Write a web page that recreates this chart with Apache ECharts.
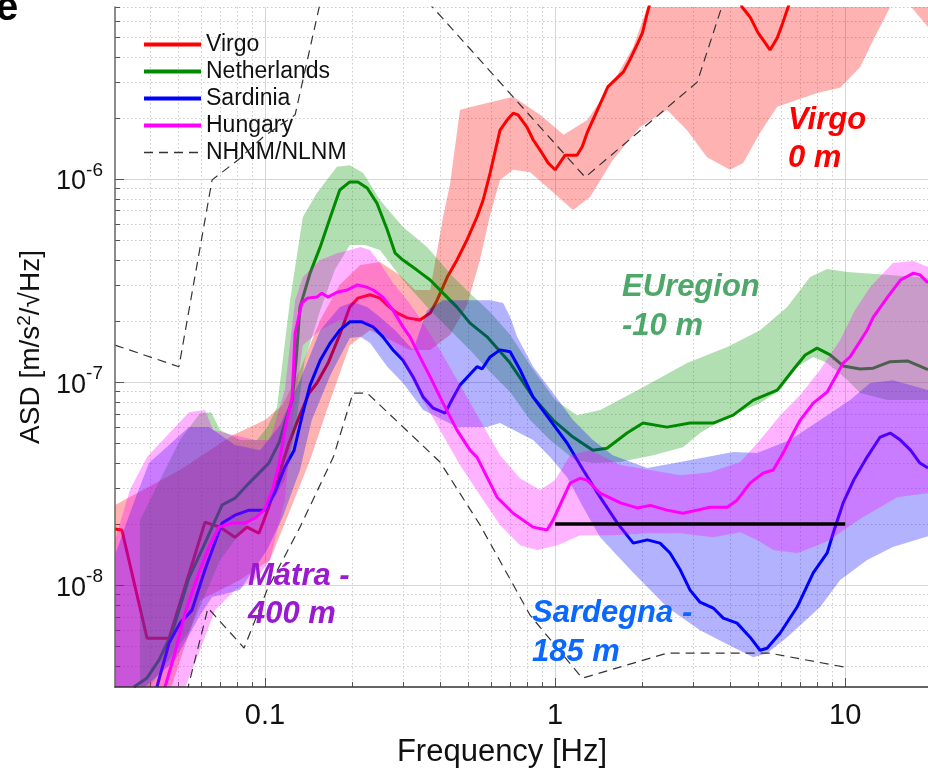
<!DOCTYPE html>
<html>
<head>
<meta charset="utf-8">
<script src="https://cdn.jsdelivr.net/npm/echarts@6/dist/echarts.min.js"></script>
<style>
  html, body { margin: 0; padding: 0; background: #fff; }
  #chart { width: 928px; height: 783px; }
</style>
</head>
<body>
<div id="chart"></div>
<script>
// axis ranges and grid positions
const xMin = 0.0304, xMax = 19.3
const yMin = 3.15e-9, yMax = 7.03e-6
const majorX = [0.1, 1, 10]
const minorX = [0.04, 0.05, 0.06, 0.07, 0.08, 0.09, 0.2, 0.3, 0.4, 0.5, 0.6, 0.7, 0.8, 0.9, 2, 3, 4, 5, 6, 7, 8, 9]
const majorY = [1e-8, 1e-7, 1e-6]
const minorY = [4e-9, 5e-9, 6e-9, 7e-9, 8e-9, 9e-9, 2e-8, 3e-8, 4e-8, 5e-8, 6e-8, 7e-8, 8e-8, 9e-8,
  2e-7, 3e-7, 4e-7, 5e-7, 6e-7, 7e-7, 8e-7, 9e-7, 2e-6, 3e-6, 4e-6, 5e-6, 6e-6, 7e-6]

// median ASD curves, [frequency Hz, m/s^2/sqrt(Hz)]
const virgo = [[0.0304,1.89e-8],[0.0321,1.87e-8],[0.0392,5.48e-9],[0.0467,5.48e-9],[0.0621,2.04e-8],[0.070,1.93e-8],[0.0788,1.72e-8],[0.0867,1.93e-8],[0.0953,1.80e-8],[0.103,2.42e-8],[0.112,3.56e-8],[0.121,5.01e-8],[0.131,6.73e-8],[0.142,8.83e-8],[0.151,9.89e-8],[0.165,1.24e-7],[0.181,1.71e-7],[0.196,2.34e-7],[0.209,2.59e-7],[0.230,2.69e-7],[0.249,2.59e-7],[0.264,2.39e-7],[0.285,2.19e-7],[0.309,2.07e-7],[0.342,2.02e-7],[0.371,2.19e-7],[0.392,2.53e-7],[0.425,3.29e-7],[0.459,3.99e-7],[0.497,5.01e-7],[0.538,6.50e-7],[0.565,7.88e-7],[0.597,1.07e-6],[0.646,1.74e-6],[0.683,1.95e-6],[0.717,2.11e-6],[0.745,2.07e-6],[0.800,1.80e-6],[0.840,1.56e-6],[0.902,1.34e-6],[0.946,1.20e-6],[1.0,1.11e-6],[1.083,1.31e-6],[1.19,1.31e-6],[1.24,1.44e-6],[1.29,1.69e-6],[1.40,2.19e-6],[1.52,2.84e-6],[1.58,3.0e-6],[1.72,3.37e-6],[1.81,3.86e-6],[1.93,4.68e-6],[2.0,5.24e-6],[2.08,6.57e-6],[2.16,8.05e-6],[3.16,1.5e-5],[4.28,8.05e-6],[4.41,7.03e-6],[4.70,6.28e-6],[5.01,5.24e-6],[5.30,4.68e-6],[5.51,4.32e-6],[5.83,4.95e-6],[6.06,5.74e-6],[6.36,7.03e-6],[6.72,9.0e-6],[8.88,1.9e-5]]
const netherlands = [[0.0353,3.15e-9],[0.0392,3.49e-9],[0.0431,4.27e-9],[0.0478,5.81e-9],[0.0547,1.09e-8],[0.0621,1.61e-8],[0.0711,2.48e-8],[0.0788,2.68e-8],[0.0881,3.18e-8],[0.0953,3.56e-8],[0.103,3.99e-8],[0.112,5.06e-8],[0.117,6.28e-8],[0.124,8.15e-8],[0.128,1.28e-7],[0.132,2.34e-7],[0.143,3.44e-7],[0.155,4.63e-7],[0.168,6.50e-7],[0.181,8.83e-7],[0.196,9.67e-7],[0.209,9.67e-7],[0.225,9.03e-7],[0.243,7.61e-7],[0.264,5.61e-7],[0.281,4.31e-7],[0.299,3.99e-7],[0.334,3.56e-7],[0.371,3.18e-7],[0.411,2.74e-7],[0.459,2.34e-7],[0.509,1.95e-7],[0.583,1.67e-7],[0.700,1.24e-7],[0.840,8.43e-8],[0.984,6.50e-8],[1.153,5.36e-8],[1.35,4.62e-8],[1.51,4.72e-8],[1.77,5.61e-8],[2.01,6.28e-8],[2.43,6.0e-8],[2.92,6.28e-8],[3.51,6.28e-8],[4.11,6.87e-8],[4.82,8.15e-8],[5.83,9.13e-8],[6.62,1.15e-7],[7.28,1.36e-7],[8.0,1.47e-7],[8.88,1.36e-7],[9.84,1.20e-7],[11.27,1.16e-7],[12.5,1.17e-7],[14.3,1.26e-7],[16.4,1.27e-7],[19.3,1.15e-7]]
const sardinia = [[0.0424,3.15e-9],[0.0467,5.18e-9],[0.0509,6.50e-9],[0.0560,7.53e-9],[0.0621,1.19e-8],[0.0711,2.02e-8],[0.0788,2.21e-8],[0.0881,2.34e-8],[0.1,2.34e-8],[0.108,2.84e-8],[0.117,3.81e-8],[0.126,4.62e-8],[0.134,6.73e-8],[0.143,9.66e-8],[0.155,1.28e-7],[0.168,1.56e-7],[0.181,1.80e-7],[0.196,1.98e-7],[0.216,1.98e-7],[0.236,1.87e-7],[0.255,1.67e-7],[0.276,1.44e-7],[0.299,1.28e-7],[0.324,1.06e-7],[0.351,8.43e-8],[0.380,7.44e-8],[0.418,7.03e-8],[0.435,7.88e-8],[0.470,9.66e-8],[0.538,1.19e-7],[0.560,1.16e-7],[0.597,1.33e-7],[0.646,1.44e-7],[0.700,1.41e-7],[0.757,1.15e-7],[0.840,8.43e-8],[0.961,6.50e-8],[1.10,5.01e-8],[1.25,3.69e-8],[1.43,2.71e-8],[1.64,2.02e-8],[1.86,1.61e-8],[2.08,1.67e-8],[2.30,1.61e-8],[2.49,1.44e-8],[2.70,1.19e-8],[2.92,9.45e-9],[3.16,8.24e-9],[3.51,7.71e-9],[3.80,6.88e-9],[4.24,6.50e-9],[4.70,5.54e-9],[5.09,4.78e-9],[5.38,4.89e-9],[5.97,5.81e-9],[6.83,7.80e-9],[7.76,1.15e-8],[8.67,1.44e-8],[9.09,1.80e-8],[9.84,2.54e-8],[10.7,3.29e-8],[11.9,4.27e-8],[13.2,5.36e-8],[14.3,5.61e-8],[15.5,5.18e-8],[16.8,4.62e-8],[18.1,3.99e-8],[19.3,3.77e-8]]
const hungary = [[0.0452,3.15e-9],[0.0489,4.62e-9],[0.0530,7.28e-9],[0.0592,1.15e-8],[0.0641,1.54e-8],[0.0694,1.93e-8],[0.0769,2.02e-8],[0.0853,2.02e-8],[0.0924,2.14e-8],[0.0993,2.34e-8],[0.106,2.94e-8],[0.112,3.99e-8],[0.117,5.80e-8],[0.124,8.43e-8],[0.127,1.74e-7],[0.134,2.45e-7],[0.140,2.59e-7],[0.151,2.62e-7],[0.157,2.74e-7],[0.165,2.62e-7],[0.177,2.77e-7],[0.192,2.84e-7],[0.208,3.01e-7],[0.225,2.93e-7],[0.236,2.84e-7],[0.255,2.62e-7],[0.276,2.26e-7],[0.299,1.87e-7],[0.316,1.67e-7],[0.342,1.33e-7],[0.371,1.06e-7],[0.411,7.88e-8],[0.459,5.80e-8],[0.509,4.62e-8],[0.538,4.27e-8],[0.631,2.71e-8],[0.717,2.26e-8],[0.840,1.93e-8],[0.938,1.87e-8],[0.984,2.09e-8],[1.07,2.71e-8],[1.127,3.18e-8],[1.22,3.36e-8],[1.29,3.29e-8],[1.43,2.84e-8],[1.68,2.54e-8],[1.92,2.40e-8],[2.13,2.47e-8],[2.43,2.34e-8],[2.76,2.26e-8],[3.09,2.34e-8],[3.42,2.42e-8],[3.92,2.42e-8],[4.24,2.62e-8],[4.70,3.18e-8],[5.21,3.56e-8],[5.65,3.69e-8],[6.11,4.47e-8],[6.62,5.61e-8],[7.0,6.50e-8],[7.76,7.88e-8],[8.67,8.93e-8],[9.84,1.24e-7],[10.4,1.33e-7],[11.9,1.80e-7],[12.5,2.09e-7],[14.0,2.62e-7],[15.5,3.18e-7],[17.2,3.44e-7],[18.1,3.37e-7],[19.3,3.08e-7]]

// percentile bands (upper / lower edges)
const virgoHi = [[0.0304,2.48e-8],[0.0509,3.69e-8],[0.0776,5.48e-8],[0.1,6.50e-8],[0.115,7.71e-8],[0.132,1.15e-7],[0.155,2.02e-7],[0.181,3.01e-7],[0.213,3.77e-7],[0.249,3.90e-7],[0.292,3.36e-7],[0.329,2.84e-7],[0.371,2.84e-7],[0.411,6.50e-7],[0.435,9.55e-7],[0.470,2.19e-6],[0.551,2.32e-6],[0.717,2.54e-6],[0.888,2.07e-6],[1.07,1.65e-6],[1.29,1.95e-6],[1.58,2.97e-6],[1.86,4.47e-6],[2.08,7.03e-6],[2.21,1.07e-5],[19.3,1.07e-5]]
const virgoLo = [[0.0304,2.8e-9],[0.047,3.0e-9],[0.0597,8.43e-9],[0.082,1.06e-8],[0.104,1.33e-8],[0.122,2.34e-8],[0.143,4.13e-8],[0.168,8.15e-8],[0.196,1.52e-7],[0.230,1.80e-7],[0.270,1.61e-7],[0.316,1.44e-7],[0.371,1.44e-7],[0.435,1.71e-7],[0.497,2.39e-7],[0.551,3.99e-7],[0.597,6.65e-7],[0.646,9.89e-7],[0.717,1.11e-6],[0.820,1.08e-6],[0.938,9.13e-7],[1.153,7.03e-7],[1.32,8.15e-7],[1.58,1.24e-6],[1.96,1.80e-6],[2.43,2.19e-6],[2.85,1.74e-6],[3.34,1.28e-6],[4.01,1.11e-6],[4.45,1.20e-6],[5.09,1.69e-6],[5.83,2.27e-6],[8.0,2.65e-6],[9.61,2.81e-6],[11.27,3.56e-6],[12.5,4.84e-6],[14.3,7.03e-6],[15.5,7.62e-6],[17.0,6.95e-6],[19.3,5.61e-6]]
const nlHi = [[0.0371,2.09e-8],[0.0509,5.18e-8],[0.0597,7.03e-8],[0.0652,7.11e-8],[0.070,5.80e-8],[0.082,5.18e-8],[0.0938,5.18e-8],[0.102,6.0e-8],[0.110,7.53e-8],[0.122,2.53e-7],[0.135,6.50e-7],[0.151,8.53e-7],[0.177,1.15e-6],[0.196,1.17e-6],[0.218,1.07e-6],[0.249,7.88e-7],[0.299,5.81e-7],[0.362,4.63e-7],[0.445,3.29e-7],[0.509,2.74e-7],[0.597,2.21e-7],[0.700,1.71e-7],[0.820,1.21e-7],[1.0,8.15e-8],[1.19,6.87e-8],[1.43,7.28e-8],[2.01,9.44e-8],[2.85,1.24e-7],[3.92,1.49e-7],[5.09,1.80e-7],[6.31,2.34e-7],[7.57,3.29e-7],[8.67,3.60e-7],[10.2,3.48e-7],[14.6,3.36e-7],[19.3,3.25e-7]]
const nlLo = [[0.0371,2.71e-9],[0.0551,6.0e-9],[0.070,1.33e-8],[0.0888,2.09e-8],[0.104,2.48e-8],[0.117,3.29e-8],[0.127,5.80e-8],[0.137,1.28e-7],[0.155,2.26e-7],[0.174,3.56e-7],[0.196,4.73e-7],[0.221,4.73e-7],[0.249,4.47e-7],[0.299,3.18e-7],[0.362,2.34e-7],[0.435,1.80e-7],[0.509,1.44e-7],[0.597,1.12e-7],[0.700,8.93e-8],[0.820,6.50e-8],[0.961,5.18e-8],[1.17,4.13e-8],[1.35,3.99e-8],[1.68,4.04e-8],[2.18,4.36e-8],[2.76,4.78e-8],[3.16,5.61e-8],[3.92,6.73e-8],[5.09,7.88e-8],[5.97,9.13e-8],[6.83,1.19e-7],[7.76,1.33e-7],[8.67,1.24e-7],[10.2,1.02e-7],[11.27,8.83e-8],[14.0,8.15e-8],[19.3,8.15e-8]]
const sarHi = [[0.0304,1.41e-8],[0.0348,2.42e-8],[0.0398,3.99e-8],[0.0547,6.0e-8],[0.0641,6.0e-8],[0.0788,4.90e-8],[0.0962,4.62e-8],[0.1127,6.14e-8],[0.132,1.02e-7],[0.155,1.80e-7],[0.181,2.34e-7],[0.201,2.48e-7],[0.225,2.34e-7],[0.249,2.09e-7],[0.281,1.80e-7],[0.324,1.44e-7],[0.362,2.26e-7],[0.411,2.53e-7],[0.597,2.53e-7],[0.662,2.45e-7],[0.700,2.09e-7],[0.740,1.67e-7],[0.840,1.19e-7],[0.984,8.83e-8],[1.153,6.50e-8],[1.35,5.18e-8],[1.58,4.36e-8],[2.08,3.77e-8],[2.70,4.04e-8],[4.11,4.52e-8],[4.97,4.47e-8],[6.46,5.18e-8],[8.20,6.50e-8],[10.4,8.15e-8],[12.2,9.89e-8],[14.6,1.02e-7],[19.3,9.13e-8]]
const sarLo = [[0.0304,2.5e-9],[0.0342,2.71e-9],[0.0489,4.27e-9],[0.0597,7.11e-9],[0.0657,8.73e-9],[0.082,9.45e-9],[0.1016,1.49e-8],[0.115,2.16e-8],[0.132,3.69e-8],[0.145,6.50e-8],[0.168,1.08e-7],[0.196,1.65e-7],[0.213,1.67e-7],[0.230,1.56e-7],[0.264,1.19e-7],[0.299,9.89e-8],[0.351,7.28e-8],[0.411,6.50e-8],[0.459,6.0e-8],[0.583,6.0e-8],[0.646,6.28e-8],[0.840,5.18e-8],[0.961,4.27e-8],[1.10,3.40e-8],[1.25,2.42e-8],[1.43,1.72e-8],[1.86,1.15e-8],[2.43,7.80e-9],[3.16,6.0e-9],[4.11,4.95e-9],[4.82,4.42e-9],[5.38,4.62e-9],[6.31,5.54e-9],[8.20,7.80e-9],[9.61,1.06e-8],[11.9,1.33e-8],[14.6,1.54e-8],[19.3,1.74e-8]]
const huHi = [[0.0304,1.67e-8],[0.0342,2.94e-8],[0.0392,4.27e-8],[0.0547,7.11e-8],[0.0621,7.28e-8],[0.0662,5.80e-8],[0.0776,5.48e-8],[0.0924,5.18e-8],[0.104,5.18e-8],[0.117,9.13e-8],[0.127,2.53e-7],[0.135,3.29e-7],[0.155,3.99e-7],[0.177,4.31e-7],[0.196,4.47e-7],[0.213,4.63e-7],[0.230,4.47e-7],[0.249,3.86e-7],[0.276,3.08e-7],[0.309,2.53e-7],[0.342,2.07e-7],[0.401,1.44e-7],[0.470,9.66e-8],[0.551,6.50e-8],[0.646,4.36e-8],[0.757,3.36e-8],[0.888,2.94e-8],[1.0,3.29e-8],[1.127,4.36e-8],[1.32,4.62e-8],[1.68,3.90e-8],[2.13,3.69e-8],[2.70,3.48e-8],[3.42,3.60e-8],[4.35,4.04e-8],[5.09,5.18e-8],[5.97,6.87e-8],[7.0,8.63e-8],[8.20,1.15e-7],[9.61,1.61e-7],[10.8,2.26e-7],[12.2,2.94e-7],[14.6,3.86e-7],[17.2,3.95e-7],[19.3,3.69e-7]]
const huLo = [[0.0304,2.5e-9],[0.0509,2.71e-9],[0.0597,4.78e-9],[0.0672,7.53e-9],[0.0788,9.45e-9],[0.0924,1.06e-8],[0.104,1.33e-8],[0.117,2.62e-8],[0.127,8.15e-8],[0.135,1.52e-7],[0.155,1.80e-7],[0.181,2.02e-7],[0.213,2.02e-7],[0.249,1.80e-7],[0.292,1.36e-7],[0.342,8.63e-8],[0.401,5.80e-8],[0.470,3.90e-8],[0.551,2.77e-8],[0.646,1.98e-8],[0.757,1.57e-8],[0.867,1.49e-8],[1.02,1.57e-8],[1.22,1.76e-8],[1.58,1.76e-8],[2.08,1.80e-8],[2.70,1.80e-8],[3.51,1.72e-8],[4.35,1.82e-8],[4.97,1.67e-8],[5.65,1.49e-8],[6.83,1.44e-8],[7.76,1.54e-8],[8.88,1.67e-8],[10.2,1.93e-8],[11.5,2.16e-8],[15.1,2.71e-8],[19.3,2.84e-8]]

// Peterson noise models and the reference level
const nhnm = [[0.0304,1.52e-7],[0.0505,1.19e-7],[0.0657,9.9e-7],[0.0807,1.24e-6],[0.0985,1.61e-6],[0.127,2.07e-6],[0.184,2.21e-5],[1.27,1.02e-6],[3.09,3.0e-6],[4.35,1.34e-5]]
const nlnm = [[0.0522,2.51e-9],[0.0636,7.71e-9],[0.0847,4.90e-9],[0.1016,9.45e-9],[0.132,1.93e-8],[0.172,4.27e-8],[0.201,8.83e-8],[0.225,8.83e-8],[0.401,4.04e-8],[0.551,1.98e-8],[0.820,7.11e-9],[1.24,3.48e-9],[2.43,4.62e-9],[5.51,4.62e-9],[10,3.94e-9]]
const refLevel = [[1, 2e-8], [10, 2e-8]]

const FONT = '"Liberation Sans", Arial, Helvetica, sans-serif'

function isDecade (v) {
  const e = Math.log10(v)
  return Math.abs(e - Math.round(e)) < 1e-6
}

// grid lines + inside ticks, placed through the axes
function gridSeries (dir) {
  const major = dir === 'x' ? majorX : majorY
  const minor = dir === 'x' ? minorX : minorY
  const rows = minor.map(v => [v, 0]).concat(major.map(v => [v, 1]))
  return {
    type: 'custom',
    silent: true,
    z: 1,
    data: rows.map(r => dir === 'x' ? [r[0], yMin, r[1]] : [xMin, r[0], r[1]]),
    renderItem (params, api) {
      const big = api.value(2) === 1
      let a, b
      if (dir === 'x') {
        a = api.coord([api.value(0), yMax])
        b = api.coord([api.value(0), yMin])
      } else {
        a = api.coord([xMin, api.value(1)])
        b = api.coord([xMax, api.value(1)])
      }
      const gx = dir === 'x' ? Math.round(a[0]) + 0.5 : 0
      const gy = dir === 'y' ? Math.round(a[1]) + 0.5 : 0
      const len = big ? 9 : 5
      const line = dir === 'x'
        ? { x1: gx, y1: a[1], x2: gx, y2: b[1] }
        : { x1: a[0], y1: gy, x2: b[0], y2: gy }
      const tick = dir === 'x'
        ? { x1: gx, y1: b[1], x2: gx, y2: b[1] - len }
        : { x1: a[0], y1: gy, x2: a[0] + len, y2: gy }
      return {
        type: 'group',
        children: [
          { type: 'line', shape: line, style: big ? { stroke: '#d6d6d6', lineWidth: 1 } : { stroke: '#cdcdcd', lineWidth: 1, lineDash: [1.5, 2.5] } },
          { type: 'line', shape: tick, style: { stroke: '#555', lineWidth: 1 } }
        ]
      }
    }
  }
}

function band (upper, lower, color, z) {
  return {
    type: 'custom',
    silent: true,
    z: z,
    data: [[upper[0][0], upper[0][1]]],
    renderItem (params, api) {
      const pts = upper.map(p => api.coord(p)).concat(lower.slice().reverse().map(p => api.coord(p)))
      const cs = params.coordSys
      return {
        type: 'group',
        clipPath: { type: 'rect', shape: { x: cs.x, y: cs.y, width: cs.width, height: cs.height } },
        children: [{ type: 'polygon', shape: { points: pts }, style: { fill: color } }]
      }
    }
  }
}

function curve (name, data, color, z, extra) {
  return Object.assign({
    name: name,
    type: 'line',
    data: data,
    z: z,
    showSymbol: false,
    symbol: 'none',
    silent: true,
    clip: true,
    color: color,
    lineStyle: { color: color, width: 3 }
  }, extra || {})
}

const dashed = { lineStyle: { color: '#333', width: 1.2, type: [9, 6] } }

function note (text, x, y, color) {
  return {
    type: 'text', x: x, y: y, z: 100,
    style: { text: text, font: 'italic bold 31px ' + FONT, fill: color, align: 'left', verticalAlign: 'middle' }
  }
}

const legendNames = ['Virgo', 'Netherlands', 'Sardinia', 'Hungary', 'NHNM/NLNM']

const chart = echarts.init(document.getElementById('chart'), null, { renderer: 'canvas' })
chart.setOption({
  animation: false,
  backgroundColor: '#fff',
  textStyle: { fontFamily: FONT },
  grid: { left: 115, right: 0, top: 7, bottom: 96, containLabel: false },
  legend: {
    data: legendNames.map(n => ({
      name: n,
      itemStyle: { opacity: 0 },
      lineStyle: n === 'NHNM/NLNM' ? { width: 1.5 } : { width: 4 }
    })),
    orient: 'vertical',
    left: 137,
    top: 28,
    itemWidth: 57,
    itemHeight: 14,
    itemGap: 4,
    selectedMode: false,
    itemStyle: { opacity: 0 },
    textStyle: { fontSize: 23, color: '#111', fontFamily: FONT }
  },
  xAxis: {
    type: 'log',
    logBase: 10,
    min: xMin,
    max: xMax,
    z: 20,
    name: 'Frequency [Hz]',
    nameLocation: 'middle',
    nameGap: 50,
    nameTextStyle: { fontSize: 31, color: '#111', padding: [0, 39, 0, 0] },
    axisLine: { lineStyle: { color: '#333', width: 1.5 } },
    axisTick: { show: false },
    splitLine: { show: false },
    axisLabel: {
      fontSize: 29,
      color: '#111',
      margin: 14,
      showMinLabel: false,
      showMaxLabel: false,
      formatter: v => isDecade(v) ? String(Math.round(v * 10) / 10) : ''
    }
  },
  yAxis: {
    type: 'log',
    logBase: 10,
    min: yMin,
    max: yMax,
    z: 20,
    name: 'ASD [m/s{sup|2}/\u221AHz]',
    nameLocation: 'middle',
    nameGap: 55,
    nameRotate: 90,
    nameTextStyle: {
      fontSize: 28,
      color: '#111',
      rich: { sup: { fontSize: 19, verticalAlign: 'top', padding: [0, 0, 12, 0], color: '#111' } }
    },
    axisLine: { lineStyle: { color: '#666', width: 1.5 } },
    axisTick: { show: false },
    splitLine: { show: false },
    axisLabel: {
      margin: 12,
      showMinLabel: false,
      showMaxLabel: false,
      formatter: v => isDecade(v) ? '{b|10}{s|' + Math.round(Math.log10(v)) + '}' : '',
      rich: {
        b: { fontSize: 27, color: '#111', lineHeight: 36, padding: [6, 0, 0, 0] },
        s: { fontSize: 19, color: '#111', verticalAlign: 'top', lineHeight: 22 }
      }
    }
  },
  graphic: [
    { type: 'text', x: -4, y: 9, z: 100, style: { text: 'e', font: 'bold 40px ' + FONT, fill: '#000', verticalAlign: 'middle' } },
    note('Virgo', 788, 120, '#ff0000'),
    note('0 m', 788, 158, '#ff0000'),
    note('EUregion', 622, 287, '#4ea86a'),
    note('-10 m', 622, 326, '#4ea86a'),
    note('M\u00e1tra -', 248, 576, '#9a1ad0'),
    note('400 m', 248, 614, '#9a1ad0'),
    note('Sardegna -', 532, 613, '#0a68ff'),
    note('185 m', 532, 652, '#0a68ff')
  ],
  series: [
    gridSeries('x'),
    gridSeries('y'),
    band(virgoHi, virgoLo, 'rgba(255,0,0,0.3)', 2),
    curve('Virgo', virgo, '#ff0000', 3),
    band(nlHi, nlLo, 'rgba(0,150,0,0.3)', 4),
    curve('Netherlands', netherlands, '#008a00', 5),
    band(sarHi, sarLo, 'rgba(0,0,255,0.3)', 6),
    curve('Sardinia', sardinia, '#0000ff', 7),
    band(huHi, huLo, 'rgba(255,0,255,0.3)', 8),
    curve('Hungary', hungary, '#ff00ff', 9),
    curve('reference', refLevel, '#000', 10, { lineStyle: { color: '#000', width: 3.5 } }),
    curve('NHNM/NLNM', nhnm, '#333', 11, dashed),
    curve('NHNM/NLNM', nlnm, '#333', 11, dashed)
  ]
})
</script>
</body>
</html>
